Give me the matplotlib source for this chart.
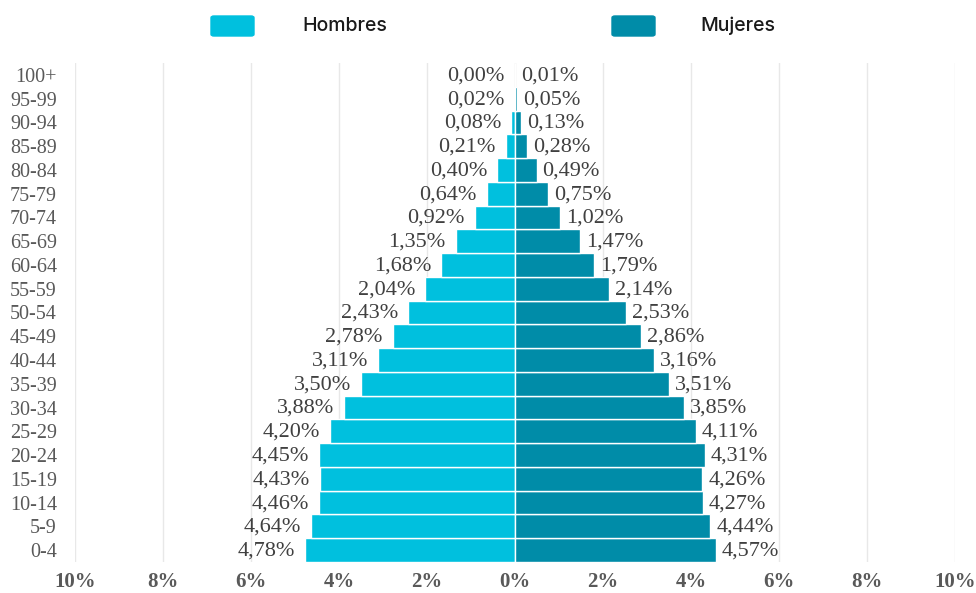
import matplotlib.pyplot as plt
from matplotlib.patches import FancyBboxPatch
from matplotlib.ticker import FixedLocator
import matplotlib.transforms as mtransforms

# age groups, bottom to top
age_groups = ["0-4", "5-9", "10-14", "15-19", "20-24", "25-29", "30-34", "35-39",
              "40-44", "45-49", "50-54", "55-59", "60-64", "65-69", "70-74",
              "75-79", "80-84", "85-89", "90-94", "95-99", "100+"]
hombres = [4.78, 4.64, 4.46, 4.43, 4.45, 4.20, 3.88, 3.50, 3.11, 2.78, 2.43,
           2.04, 1.68, 1.35, 0.92, 0.64, 0.40, 0.21, 0.08, 0.02, 0.00]
mujeres = [4.57, 4.44, 4.27, 4.26, 4.31, 4.11, 3.85, 3.51, 3.16, 2.86, 2.53,
           2.14, 1.79, 1.47, 1.02, 0.75, 0.49, 0.28, 0.13, 0.05, 0.01]
x_ticks = [-10, -8, -6, -4, -2, 0, 2, 4, 6, 8, 10]

c_h = "#00C0DE"
c_m = "#008CA8"
serif = "Liberation Serif"


def fmt(v):
    return f"{v:.2f}".replace(".", ",") + "%"


fig = plt.figure(figsize=(9.76, 5.93), dpi=100)
ax = fig.add_axes([0.0768, 0.0523, 0.9017, 0.8415])

y = list(range(len(age_groups)))
ax.barh(y, [-v for v in hombres], height=1.0, color=c_h, edgecolor="white", linewidth=1, zorder=3)
ax.barh(y, mujeres, height=1.0, color=c_m, edgecolor="white", linewidth=1, zorder=3)

# data labels
off_l = mtransforms.offset_copy(ax.transData, fig=fig, x=-10, y=-1, units="dots")
off_r = mtransforms.offset_copy(ax.transData, fig=fig, x=6, y=-1, units="dots")
for i, (h, m) in enumerate(zip(hombres, mujeres)):
    ax.text(-h, i, fmt(h), transform=off_l, ha="right", va="center",
            fontsize=16, family=serif, color="#404040")
    ax.text(m, i, fmt(m), transform=off_r, ha="left", va="center",
            fontsize=16, family=serif, color="#404040")

ax.set_xlim(-10, 10)
ax.set_ylim(-0.5, len(age_groups) - 0.5)
ax.xaxis.set_major_locator(FixedLocator(x_ticks))
ax.set_xticklabels([f"{abs(t)}%" for t in x_ticks], family=serif, fontsize=15,
                   fontweight="bold", color="#595959")
ax.set_yticks(y)
ax.set_yticklabels(age_groups, family=serif, fontsize=14.5, color="#595959")
ax.tick_params(axis="both", length=0)
ax.tick_params(axis="y", pad=13)
ax.tick_params(axis="x", pad=7)
ax.grid(axis="x", color="#E8E8E8", linewidth=1, zorder=0)
for s in ax.spines.values():
    s.set_visible(False)

# legend
for x0, color, label, tx in [(211, c_h, "Hombres", 302), (612, c_m, "Mujeres", 700)]:
    fig.patches.append(FancyBboxPatch((x0 / 976, 1 - 36 / 593), 43 / 976, 20 / 593,
                                      boxstyle="round,pad=0,rounding_size=0.003",
                                      transform=fig.transFigure, color=color))
    fig.text(tx / 976, 1 - 26 / 593, label, ha="left", va="center", fontsize=14,
             family="Inter", fontweight="medium", color="#1a1a1a")

fig.savefig("out.png", dpi=100)
